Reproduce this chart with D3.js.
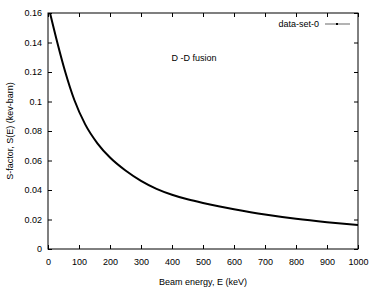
<!DOCTYPE html>
<html><head><meta charset="utf-8">
<script src="https://cdn.jsdelivr.net/npm/d3@7"></script>
<style>body{margin:0;background:#fff}svg{display:block}text{font-family:"Liberation Sans",Arial,sans-serif;fill:#000}</style>
</head><body><svg id="c" width="374" height="291"></svg>
<script>
const energy = [6.5,30,55,85,120,160,200,250,300,350,400,450,500,550,600,700,800,900,1000];
const sFactor = [0.160,0.140,0.1205,0.101,0.0845,0.0715,0.0620,0.0532,0.0462,0.0408,0.0368,0.0337,0.0312,0.0290,0.0270,0.0234,0.0205,0.0182,0.0163];
const xTicks = [0,100,200,300,400,500,600,700,800,900,1000];
const yTicks = [0,0.02,0.04,0.06,0.08,0.1,0.12,0.14,0.16];
const seriesName = "data-set-0";
const title = "D -D fusion";
const xLabel = "Beam energy, E (keV)";
const yLabel = "S-factor, S(E) (kev-barn)";

const svg = d3.select("#c");
const L=48,R=358,T=13,B=249;
const x = d3.scaleLinear().domain([0,1000]).range([L,R]);
const y = d3.scaleLinear().domain([0,0.16]).range([B,T]);
const fs = 9;

svg.append("defs").append("clipPath").attr("id","clip").append("rect").attr("x",L).attr("y",T).attr("width",R-L).attr("height",B-T);

const fmtY = d=> d===0?"0":String(+d.toFixed(2));
const gx = svg.append("g").attr("transform",`translate(0,${B})`).call(d3.axisBottom(x).tickValues(xTicks).tickSize(-4).tickPadding(10).tickFormat(d3.format("d")));
const gxt = svg.append("g").attr("transform",`translate(0,${T})`).call(d3.axisTop(x).tickValues(xTicks).tickSize(-4).tickFormat(""));
const gy = svg.append("g").attr("transform",`translate(${L},0)`).call(d3.axisLeft(y).tickValues(yTicks).tickSize(-4).tickPadding(6).tickFormat(fmtY));
const gyr = svg.append("g").attr("transform",`translate(${R},0)`).call(d3.axisRight(y).tickValues(yTicks).tickSize(-4).tickFormat(""));
[gx,gxt,gy,gyr].forEach(g=>{g.select(".domain").remove();g.selectAll("line").attr("stroke","#000");g.selectAll("text").attr("font-size",fs).attr("font-family",'"Liberation Sans",Arial,sans-serif').attr("fill","#000");});
svg.append("rect").attr("x",L).attr("y",T).attr("width",R-L).attr("height",B-T).attr("fill","none").attr("stroke","#000").attr("stroke-width",1);

const line = d3.line().x((d,i)=>x(energy[i])).y((d,i)=>y(sFactor[i])).curve(d3.curveMonotoneX);
svg.append("path").datum(sFactor).attr("d",line).attr("fill","none").attr("stroke","#000").attr("stroke-width",2).attr("clip-path","url(#clip)");

svg.append("text").attr("x",(L+R)/2).attr("y",285).attr("text-anchor","middle").attr("font-size",fs).text(xLabel);
svg.append("text").attr("transform",`translate(13,131) rotate(-90)`).attr("text-anchor","middle").attr("font-size",fs).text(yLabel);
svg.append("text").attr("x",194).attr("y",61).attr("text-anchor","middle").attr("font-size",fs).text(title);

svg.append("text").attr("x",319).attr("y",27).attr("text-anchor","end").attr("font-size",fs).text(seriesName);
svg.append("line").attr("x1",325).attr("x2",350).attr("y1",24).attr("y2",24).attr("stroke","#000").attr("stroke-width",0.6);
svg.append("rect").attr("x",336).attr("y",23).attr("width",2).attr("height",2).attr("fill","#000");
</script></body></html>
